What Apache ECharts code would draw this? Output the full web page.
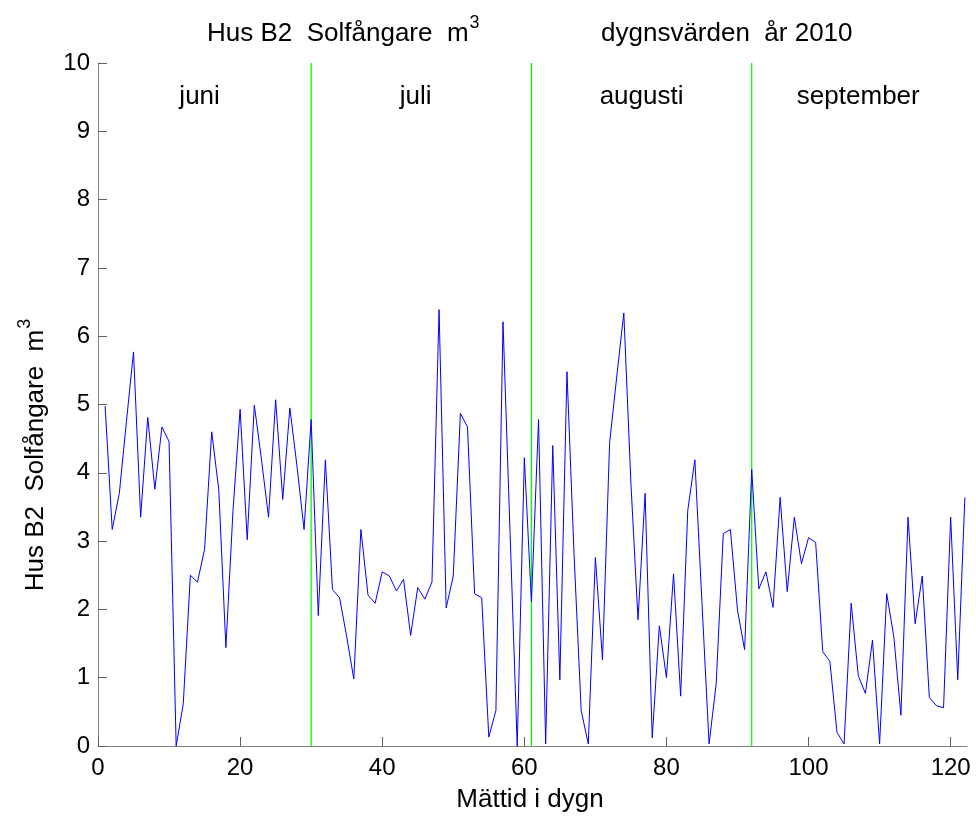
<!DOCTYPE html>
<html>
<head>
<meta charset="utf-8">
<script src="https://cdn.jsdelivr.net/npm/echarts@6/dist/echarts.min.js"></script>
<style>
  html, body { margin: 0; padding: 0; background: #fff; }
  #chart { width: 976px; height: 817px; }
</style>
</head>
<body>
<div id="chart"></div>
<script>
// daily values, day 1 = 1 June 2010
const values = [
  4.98, 3.17, 3.70, 4.75, 5.77, 3.35, 4.81, 3.76, 4.67, 4.46,
  0.00, 0.62, 2.50, 2.40, 2.88, 4.60, 3.75, 1.44, 3.45, 4.93,
  3.02, 4.99, 4.20, 3.35, 5.07, 3.61, 4.95, 4.10, 3.17, 4.78,
  1.91, 4.19, 2.29, 2.17, 1.60, 0.98, 3.17, 2.21, 2.09, 2.55,
  2.49, 2.27, 2.44, 1.62, 2.32, 2.15, 2.40, 6.39, 2.02, 2.49,
  4.87, 4.67, 2.23, 2.17, 0.13, 0.52, 6.21, 3.10, 0.00, 4.22,
  2.11, 4.78, 0.03, 4.40, 0.97, 5.48, 2.80, 0.52, 0.03, 2.76,
  1.26, 4.44, 5.40, 6.34, 3.85, 1.85, 3.70, 0.12, 1.76, 1.00,
  2.52, 0.73, 3.45, 4.19, 2.10, 0.03, 0.91, 3.11, 3.17, 1.99,
  1.41, 4.05, 2.30, 2.55, 2.03, 3.64, 2.26, 3.35, 2.67, 3.05,
  2.98, 1.38, 1.24, 0.20, 0.03, 2.09, 1.03, 0.77, 1.55, 0.03,
  2.23, 1.60, 0.45, 3.35, 1.79, 2.49, 0.71, 0.59, 0.56, 3.35,
  0.97, 3.64
];
const monthBreaks = [30, 61, 92];
const monthNames = ['juni', 'juli', 'augusti', 'september'];
const monthPos = [14.3, 44.7, 76.5, 107];
const xTicks = [0, 20, 40, 60, 80, 100, 120];

const FONT = 'Liberation Sans';
const TICK = 24;   // tick labels
const LBL = 26;    // title, axis labels, month texts (matlab 1.1x)

const line = values.map((v, i) => [i + 1, v]);
const labels = monthNames.map((n, i) => [monthPos[i], 9.5, n]);

// rich text with a raised "3"
const supRich = (fillKey) => ({
    a: { fontSize: LBL, [fillKey]: '#000', fontFamily: FONT, fontWeight: 'normal', verticalAlign: 'bottom', lineHeight: 32 },
    s: { fontSize: 18, [fillKey]: '#000', fontFamily: FONT, fontWeight: 'normal', verticalAlign: 'bottom', padding: [0, 0, 15, 1], lineHeight: 32 }
});

const chart = echarts.init(document.getElementById('chart'));
chart.setOption({
    animation: false,
    textStyle: { fontFamily: FONT },
    title: [
        {
            text: '{a|Hus B2  Solfångare  m}{s|3}',
            left: 202, top: 10,
            textStyle: { fontWeight: 'normal', rich: supRich('color') }
        },
        {
            text: 'dygnsvärden  år 2010',
            left: 596, top: 16,
            textStyle: { fontSize: LBL, fontWeight: 'normal', color: '#000', fontFamily: FONT }
        }
    ],
    grid: { left: 98, right: 9, top: 63, bottom: 71 },
    xAxis: {
        type: 'value', min: 0, max: 122.3,
        axisLine: { lineStyle: { color: '#808080', width: 1 } },
        axisTick: { inside: true, length: 9, customValues: xTicks, lineStyle: { color: '#606060' } },
        axisLabel: { customValues: xTicks, fontSize: TICK, color: '#000', margin: 10, fontFamily: FONT },
        splitLine: { show: false }
    },
    yAxis: {
        type: 'value', min: 0, max: 10, interval: 1,
        axisLine: { show: true, lineStyle: { color: '#808080', width: 1 } },
        axisTick: { show: true, inside: true, length: 9, lineStyle: { color: '#606060' } },
        axisLabel: { fontSize: TICK, color: '#000', margin: 8, fontFamily: FONT },
        splitLine: { show: false }
    },
    graphic: [
        {
            type: 'text', x: 530, y: 800,
            style: { text: 'Mättid i dygn', fontSize: LBL, fill: '#000', fontFamily: FONT, align: 'center', verticalAlign: 'middle' }
        },
        {
            type: 'text', x: 33, y: 455, rotation: Math.PI / 2,
            style: {
                text: '{a|Hus B2  Solfångare  m}{s|3}',
                align: 'center', verticalAlign: 'middle',
                rich: supRich('fill')
            }
        }
    ],
    series: [
        // month separators
        ...monthBreaks.map(x => ({
            type: 'line',
            data: [[x, 0], [x, 10]],
            symbol: 'none',
            silent: true,
            lineStyle: { color: '#00ff00', width: 1.3 },
            z: 2
        })),
        {
            type: 'line',
            data: line,
            symbol: 'none',
            lineStyle: { color: '#0000ff', width: 1 },
            z: 3
        },
        {
            type: 'scatter',
            data: labels,
            symbolSize: 0,
            silent: true,
            itemStyle: { opacity: 1 },
            label: {
                show: true, position: 'inside',
                formatter: p => p.data[2],
                fontSize: LBL, color: '#000', textBorderWidth: 0, fontFamily: FONT
            },
            z: 4
        }
    ]
});
</script>
</body>
</html>
